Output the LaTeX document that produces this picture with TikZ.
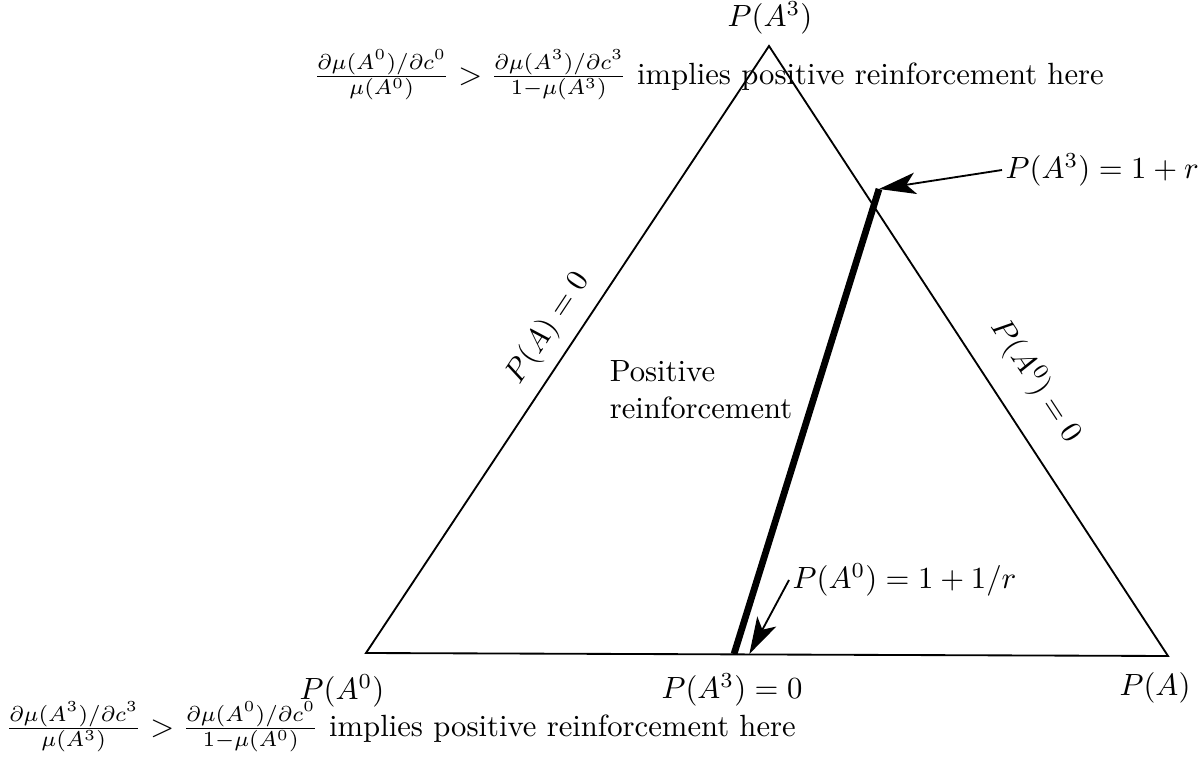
\documentclass[tikz,border=0pt]{standalone}
\usetikzlibrary{arrows.meta}
\begin{document}
\begin{tikzpicture}[x=0.326pt, y=-0.326pt,
	pointer/.style={-{Stealth[length=12pt, width=7pt, inset=3pt]}, semithick}]
	\useasboundingbox (0,0) rectangle (1202,759);
	% Draw simplex corners
	\coordinate (A0) at (366,653);
	\coordinate (A1) at (1168,656);
	\coordinate (A3) at (769,46);
	\draw[semithick] (A0) -- (A1) -- (A3) -- cycle;

	% Draw threshold line
	\coordinate (top) at (879,189);
	\coordinate (bot) at (734,654);
	\draw[line width=2.2pt] (top) -- (bot);

	% Corner labels
	\node (lA3) at (770,18) {$P(A^3)$};
	\node (lA0) at (342,691) {$P(A^0)$};
	\node (lA1) at (1155,688) {$P(A)$};
	\node (lbase) at (732,690) {$P(A^3) = 0$};

	% Side labels
	\node[rotate=56.5] (lleft) at (548,328) {$P(A) = 0$};
	\node[rotate=-56.8] (lright) at (1036,381) {$P(A^0) = 0$};

	% Region label
	\node[align=left] (region) at (701,390) {Positive\\reinforcement};

	% Labels with arrows
	\node[right, inner sep=1pt] (lr) at (1002,170) {$P(A^3) = 1 + r$};
	\draw[pointer] (lr.west) -- (top);
	\node[right, inner sep=1pt] (linv) at (789,580) {$P(A^0) = 1 + 1/r$};
	\draw[pointer] (linv.west) -- ([xshift=5pt]bot);

	% Conditions at the corners
	\node[right, inner sep=0pt] (ctop) at (313,75)
		{$\frac{\partial\mu(A^0)/\partial c^0}{\mu(A^0)} > \frac{\partial\mu(A^3)/\partial c^3}{1-\mu(A^3)}$ implies positive reinforcement here};
	\node[right, inner sep=0pt] (cbot) at (5,727)
		{$\frac{\partial\mu(A^3)/\partial c^3}{\mu(A^3)} > \frac{\partial\mu(A^0)/\partial c^0}{1-\mu(A^0)}$ implies positive reinforcement here};
\end{tikzpicture}
\end{document}
